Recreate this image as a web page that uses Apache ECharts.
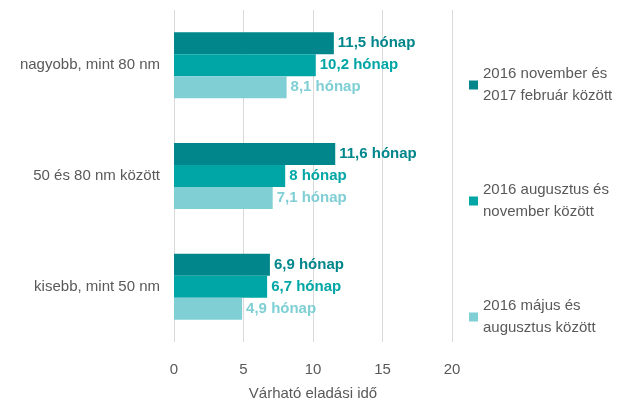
<!DOCTYPE html>
<html><head><meta charset="utf-8">
<script src="https://cdn.jsdelivr.net/npm/echarts@6/dist/echarts.min.js"></script>
<style>html,body{margin:0;background:#fff}#c{width:640px;height:418px}</style>
</head><body><div id="c"></div>
<script>
const categories = ['nagyobb, mint 80 nm', '50 és 80 nm között', 'kisebb, mint 50 nm'];
const seriesNames = ['2016 november és\n2017 február között', '2016 augusztus és\nnovember között', '2016 május és\naugusztus között'];
const novFeb = [11.5, 11.6, 6.9];
const augNov = [10.2, 8, 6.7];
const majAug = [8.1, 7.1, 4.9];
const colors = ['#00868B', '#00A6A6', '#7FCFD4'];
const xTicks = [0, 5, 10, 15, 20];

const fmt = v => String(v.value).replace('.', ',') + ' hónap';
const mk = (name, data, i) => ({
  name, type: 'bar', data, barWidth: 22, barGap: '0%',
  itemStyle: { color: colors[i] },
  label: { show: true, position: 'right', distance: 4, formatter: fmt,
    color: colors[i], fontWeight: 'bold', fontSize: 15, fontFamily: 'Liberation Sans' }
});
const chart = echarts.init(document.getElementById('c'));
chart.setOption({
  animation: false,
  textStyle: { fontFamily: 'Liberation Sans' },
  grid: { left: 174, right: 188, top: 10, bottom: 76 },
  xAxis: { type: 'value', min: xTicks[0], max: xTicks[xTicks.length-1], interval: 5,
    name: 'Várható eladási idő', nameLocation: 'middle', nameGap: 44,
    nameTextStyle: { color: '#595959', fontSize: 15 },
    axisLabel: { color: '#595959', fontSize: 15, margin: 20 },
    splitLine: { lineStyle: { color: '#d9d9d9' } }, axisLine: { show: false }, axisTick: { show: false } },
  yAxis: { type: 'category', data: categories, inverse: true,
    axisLabel: { color: '#595959', fontSize: 15, margin: 14 },
    axisLine: { show: false }, axisTick: { show: false } },
  legend: { orient: 'vertical', left: 464, top: 58, itemGap: 72, itemWidth: 9, itemHeight: 9,
    icon: 'rect', data: seriesNames,
    textStyle: { color: '#595959', fontSize: 15, lineHeight: 22 } },
  series: [mk(seriesNames[0], novFeb, 0), mk(seriesNames[1], augNov, 1), mk(seriesNames[2], majAug, 2)]
});
</script></body></html>
